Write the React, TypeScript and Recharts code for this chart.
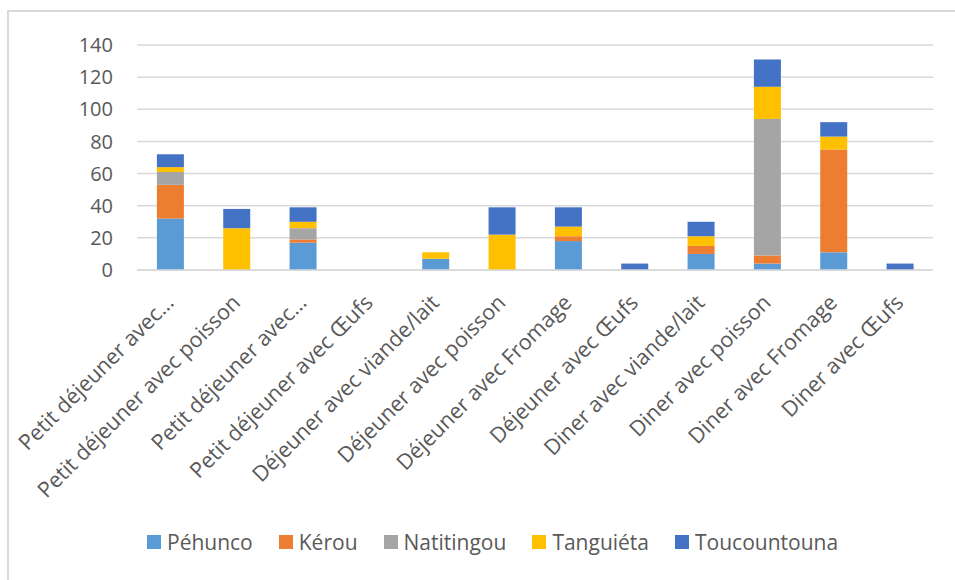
import {Bar, BarChart, CartesianGrid, Legend, XAxis, YAxis} from "recharts";

const categories = [
    "Petit déjeuner avec…",
    "Petit déjeuner avec poisson",
    "Petit déjeuner avec…",
    "Petit déjeuner avec Œufs",
    "Déjeuner avec viande/lait",
    "Déjeuner avec poisson",
    "Déjeuner avec Fromage",
    "Déjeuner avec Œufs",
    "Diner avec viande/lait",
    "Diner avec poisson",
    "Diner avec Fromage",
    "Diner avec Œufs",
];

const pehunco = [32, 0, 17, 0, 7, 0, 18, 0, 10, 4, 11, 0];
const kerou = [21, 0, 2, 0, 0, 0, 3, 0, 5, 5, 64, 0];
const natitingou = [8, 0, 7, 0, 0, 0, 0, 0, 0, 85, 0, 0];
const tanguieta = [3, 26, 4, 0, 4, 22, 6, 0, 6, 20, 8, 0];
const toucountouna = [8, 12, 9, 0, 0, 17, 12, 4, 9, 17, 9, 4];

const yTicks = [0, 20, 40, 60, 80, 100, 120, 140];

const series = [
    {key: "Péhunco", values: pehunco, color: "#5B9BD5"},
    {key: "Kérou", values: kerou, color: "#ED7D31"},
    {key: "Natitingou", values: natitingou, color: "#A5A5A5"},
    {key: "Tanguiéta", values: tanguieta, color: "#FFC000"},
    {key: "Toucountouna", values: toucountouna, color: "#4472C4"},
];

const data = categories.map((name, i) => {
    const row: any = {name};
    series.forEach(s => {
        row[s.key] = s.values[i];
    });
    return row;
});

const FONT = "'Open Sans', sans-serif";
const TEXT = "#595959";

const CategoryTick = (props: any) => {
    const {x, y, payload} = props;
    const tx = x + 5;
    const ty = y + 26;
    return (
        <text x={tx} y={ty} textAnchor="end" fill={TEXT} fontSize={21.5} fontFamily={FONT}
              transform={`rotate(-45 ${tx} ${ty})`}>
            {payload.value}
        </text>
    );
};

const LegendContent = () => (
    <div style={{display: "flex", alignItems: "center", paddingLeft: 147, fontFamily: FONT, fontSize: 21, color: TEXT}}>
        {series.map(s => (
            <div key={s.key} style={{display: "flex", alignItems: "center", marginRight: 26}}>
                <span style={{display: "inline-block", width: 14, height: 14, background: s.color, marginRight: 6}}/>
                <span>{s.key}</span>
            </div>
        ))}
    </div>
);

const App = () => {
    return (
        <div style={{position: "fixed", left: 0, top: 0, width: 955, height: 580, overflow: "hidden", background: "#fff"}}>
            <div style={{position: "absolute", left: 7, top: 10, width: 1000, height: 640, border: "2px solid #d9d9d9"}}/>
            <div style={{position: "absolute", left: 0, top: 0}}>
                <BarChart
                    width={955}
                    height={580}
                    data={data}
                    barCategoryGap="30%"
                    margin={{top: 45, right: 22, left: 60, bottom: 0}}
                >
                    <CartesianGrid vertical={false} stroke="#d9d9d9" strokeWidth={1.5}/>
                    <XAxis dataKey="name" interval={0} height={282} tickLine={false}
                           axisLine={{stroke: "#d9d9d9", strokeWidth: 1.5}} tick={<CategoryTick/>}/>
                    <YAxis width={77} domain={[0, 140]} ticks={yTicks} tickLine={false} axisLine={false}
                           tickMargin={18} tick={{fill: TEXT, fontSize: 20, fontFamily: FONT}}/>
                    <Legend verticalAlign="bottom" content={<LegendContent/>}
                            wrapperStyle={{top: 528, left: 0, width: 955}}/>
                    {series.map(s => (
                        <Bar key={s.key} dataKey={s.key} stackId="a" fill={s.color} isAnimationActive={false}/>
                    ))}
                </BarChart>
            </div>
        </div>
    );
};

export default App;
